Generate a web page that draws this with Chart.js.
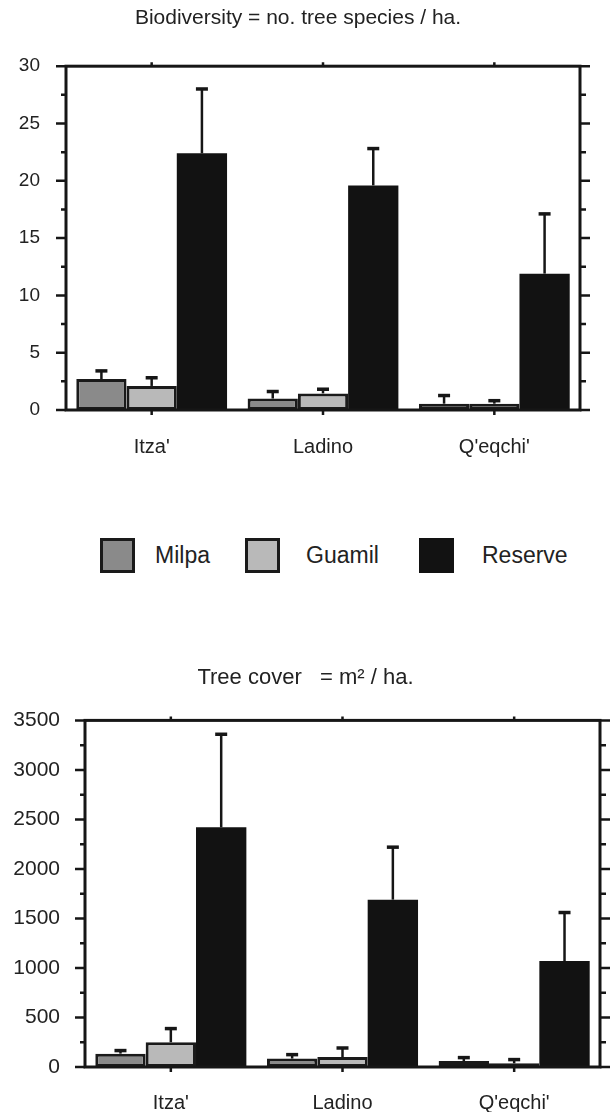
<!DOCTYPE html>
<html>
<head>
<meta charset="utf-8">
<script src="https://cdn.jsdelivr.net/npm/chart.js@4.4.1/dist/chart.umd.min.js"></script>
<style>
  html, body { margin: 0; padding: 0; background: #ffffff; }
  body { width: 613px; height: 1112px; position: relative; overflow: hidden; font-family: "Liberation Sans", Arial, sans-serif; color: #222; }
  #c1 { position: absolute; left: 0; top: 0; }
  #c2 { position: absolute; left: 0; top: 640px; }
  .lg-box { position: absolute; width: 29px; height: 29px; border: 3px solid #1a1a1a; }
  .lg-text { position: absolute; font-size: 23px; line-height: 26px; color: #222; }
</style>
</head>
<body>
<canvas id="c1" width="613" height="470"></canvas>
<div id="legend"></div>
<canvas id="c2" width="613" height="472"></canvas>
<script>
// ---------- data ----------
const categories = ["Itza'", "Ladino", "Q'eqchi'"];
const seriesNames = ["Milpa", "Guamil", "Reserve"];

// Biodiversity = no. tree species / ha.
const bioMilpa = [2.7, 1.0, 0.55];
const bioGuamil = [2.1, 1.45, 0.55];
const bioReserve = [22.4, 19.6, 11.9];
const bioMilpaErr = [0.8, 0.7, 0.8];
const bioGuamilErr = [0.8, 0.45, 0.35];
const bioReserveErr = [5.7, 3.3, 5.3];
const bioTicks = [0, 5, 10, 15, 20, 25, 30];

// Tree cover = m2 / ha.
const coverMilpa = [135, 85, 60];
const coverGuamil = [250, 100, 37];
const coverReserve = [2420, 1690, 1070];
const coverMilpaErr = [41, 50, 45];
const coverGuamilErr = [148, 102, 48];
const coverReserveErr = [950, 540, 500];
const coverTicks = [0, 500, 1000, 1500, 2000, 2500, 3000, 3500];

// ---------- styles ----------
const FONT = "'Liberation Sans', Arial, Helvetica, sans-serif";
const INK = '#161616';
const fills = ['#8a8a8a', '#b9b9b9', '#121212'];
const borders = ['#1a1a1a', '#1a1a1a', '#121212'];

// ---------- plugins ----------
const errorBars = {
  id: 'errorBars',
  afterDatasetsDraw(chart) {
    const ctx = chart.ctx;
    const ys = chart.scales.y;
    ctx.save();
    ctx.strokeStyle = INK;
    ctx.lineCap = 'butt';
    chart.data.datasets.forEach((ds, i) => {
      const meta = chart.getDatasetMeta(i);
      meta.data.forEach((bar, j) => {
        const v = ds.data[j];
        const e = ds.errors[j];
        const yTop = ys.getPixelForValue(v);
        const yErr = ys.getPixelForValue(v + e);
        ctx.lineWidth = 2.5;
        ctx.beginPath();
        ctx.moveTo(bar.x, yTop);
        ctx.lineTo(bar.x, yErr);
        ctx.stroke();
        ctx.lineWidth = 3.5;
        ctx.beginPath();
        ctx.moveTo(bar.x - 6, yErr + 1);
        ctx.lineTo(bar.x + 6, yErr + 1);
        ctx.stroke();
      });
    });
    ctx.restore();
  }
};

const frame = {
  id: 'frame',
  afterDraw(chart, args, opts) {
    const ctx = chart.ctx;
    const a = chart.chartArea;
    const ys = chart.scales.y;
    const xs = chart.scales.x;
    ctx.save();
    ctx.strokeStyle = INK;
    ctx.lineWidth = 3;
    ctx.strokeRect(a.left, a.top, a.right - a.left, a.bottom - a.top);
    const maxV = ys.max;
    const step = opts.minor;
    ctx.lineWidth = 2.5;
    for (let v = 0; v <= maxV + 1e-9; v += step) {
      const y = ys.getPixelForValue(v);
      const major = Math.abs((v / (step * 2)) - Math.round(v / (step * 2))) < 1e-6;
      const lenL = major ? 10 : 5;
      const lenR = major ? 10 : 6;
      ctx.beginPath();
      ctx.moveTo(a.left - lenL, y);
      ctx.lineTo(a.left, y);
      ctx.moveTo(a.right, y);
      ctx.lineTo(a.right + lenR, y);
      ctx.stroke();
    }
    categories.forEach((c, i) => {
      const x = xs.getPixelForTick(i);
      ctx.beginPath();
      ctx.moveTo(x, a.top - 4);
      ctx.lineTo(x, a.top);
      ctx.moveTo(x, a.bottom);
      ctx.lineTo(x, a.bottom + 5);
      ctx.stroke();
    });
    ctx.restore();
  }
};

function makeChart(canvasId, title, vals, errs, ticks, cfg) {
  const datasets = seriesNames.map((name, i) => ({
    label: name,
    data: vals[i],
    errors: errs[i],
    backgroundColor: fills[i],
    borderColor: borders[i],
    borderWidth: i < 2 ? 3 : 0,
    borderSkipped: false,
    barPercentage: 1.0,
    categoryPercentage: 0.88
  }));
  return new Chart(document.getElementById(canvasId), {
    type: 'bar',
    data: { labels: categories, datasets },
    options: {
      responsive: false,
      animation: false,
      devicePixelRatio: 1,
      layout: { padding: { left: cfg.padLeft, right: cfg.padRight, top: 0, bottom: 0 } },
      plugins: {
        legend: { display: false },
        tooltip: { enabled: false },
        title: {
          display: true,
          text: title,
          color: '#222',
          font: { family: FONT, size: cfg.titleSize, weight: 'normal' },
          padding: { top: cfg.titleTop, bottom: cfg.titleBottom }
        },
        frame: { minor: cfg.minor }
      },
      scales: {
        x: {
          grid: { display: false, drawTicks: false },
          border: { display: false },
          ticks: { color: '#222', font: { family: FONT, size: cfg.xFont }, padding: cfg.xPad },
          afterFit: s => { s.height = cfg.xHeight; }
        },
        y: {
          min: 0,
          max: ticks[ticks.length - 1],
          afterBuildTicks: s => { s.ticks = ticks.map(v => ({ value: v })); },
          grid: { display: false, drawTicks: false },
          border: { display: false },
          ticks: {
            color: '#222',
            font: { family: FONT, size: cfg.yFont },
            padding: cfg.yPad,
            callback: v => String(v)
          },
          afterFit: s => { s.width = cfg.yWidth; }
        }
      }
    },
    plugins: [errorBars, frame]
  });
}

makeChart('c1', 'Biodiversity = no. tree species / ha.',
  [bioMilpa, bioGuamil, bioReserve], [bioMilpaErr, bioGuamilErr, bioReserveErr], bioTicks,
  { padLeft: 16, padRight: 33, titleSize: 21, titleTop: 6, titleBottom: 35, minor: 2.5,
    xFont: 20, xPad: 25, xHeight: 60, yFont: 19, yPad: 26, yWidth: 50 });

makeChart('c2', 'Tree cover   = m\u00B2 / ha.',
  [coverMilpa, coverGuamil, coverReserve], [coverMilpaErr, coverGuamilErr, coverReserveErr], coverTicks,
  { padLeft: 11, padRight: 13, titleSize: 22, titleTop: 25, titleBottom: 29, minor: 250,
    xFont: 20, xPad: 24, xHeight: 45, yFont: 21, yPad: 25, yWidth: 74 });

// ---------- legend ----------
const legendPos = [
  { box: 100, text: 155 },
  { box: 245, text: 306 },
  { box: 419, text: 482 }
];
const lg = document.getElementById('legend');
seriesNames.forEach((name, i) => {
  const b = document.createElement('div');
  b.className = 'lg-box';
  b.style.left = legendPos[i].box + 'px';
  b.style.top = '538px';
  b.style.background = fills[i];
  b.style.borderColor = borders[i];
  lg.appendChild(b);
  const t = document.createElement('div');
  t.className = 'lg-text';
  t.style.left = legendPos[i].text + 'px';
  t.style.top = '542px';
  t.textContent = name;
  lg.appendChild(t);
});
</script>
</body>
</html>
